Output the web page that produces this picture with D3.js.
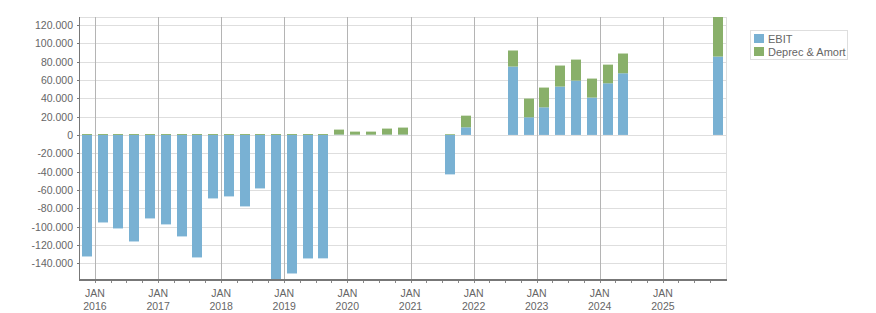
<!DOCTYPE html>
<html lang="en">
	<head>
		<meta charset="utf-8">
		<title>EBIT</title>
		<script src="https://cdn.jsdelivr.net/npm/d3@7"></script>
		<style>
			body { margin: 0; background: #fff; }
			text { font-family: "Liberation Sans", Arial, sans-serif; fill: #666; }
		</style>
	</head>
	<body>
	<script>

		// quarter start (year, quarter 1-4) for every bar slot
		var quarters = [
			"2015Q4",
			"2016Q1","2016Q2","2016Q3","2016Q4",
			"2017Q1","2017Q2","2017Q3","2017Q4",
			"2018Q1","2018Q2","2018Q3","2018Q4",
			"2019Q1","2019Q2","2019Q3","2019Q4",
			"2020Q1","2020Q2","2020Q3","2020Q4",
			"2021Q1","2021Q2","2021Q3","2021Q4",
			"2022Q1","2022Q2","2022Q3","2022Q4",
			"2023Q1","2023Q2","2023Q3","2023Q4",
			"2024Q1","2024Q2","2024Q3","2024Q4",
			"2025Q1","2025Q2","2025Q3","2025Q4"
		];

		var ebit = [
			-132450,
			-95400, -101900, -116100, -91000,
			-97500, -110600, -133500, -69200,
			-67000, -77900, -58300, -157000,
			-151000, -134600, -134500, 400,
			300, 300, 400, 400,
			null, null, -43000, 8300,
			null, null, 74500, 19200,
			30100, 52700, 59200, 40700,
			56300, 67200, null, null,
			null, null, null, 85400
		];

		var deprec = [
			1000,
			1000, 1000, 1000, 1000,
			1000, 1000, 1000, 1000,
			1000, 1000, 1000, 1000,
			1000, 1000, 1000, 5400,
			3300, 3300, 6500, 7600,
			null, null, 800, 12700,
			null, null, 17500, 20400,
			21500, 22900, 22900, 20700,
			20300, 21500, null, null,
			null, null, null, 43100
		];

		var seriesNames = ["EBIT", "Deprec & Amort"];
		var colors = ["#79b1d3", "#89b06a"];
		var yTicks = [-140000, -120000, -100000, -80000, -60000, -40000, -20000, 0,
			20000, 40000, 60000, 80000, 100000, 120000];
		var yearTicks = [2016, 2017, 2018, 2019, 2020, 2021, 2022, 2023, 2024, 2025];

		var w = 876, h = 313;
		var pLeft = 79, pRight = 726, pTop = 17, pBottom = 279;

		function qStart(q) {
			var yr = +q.slice(0, 4), n = +q.slice(5);
			return new Date(yr, (n - 1) * 3, 1);
		}

		var rows = [];
		quarters.forEach(function(q, i) {
			if (ebit[i] == null) return;
			rows.push({ q: q, "EBIT": ebit[i], "Deprec & Amort": deprec[i] });
		});

		var stack = d3.stack().keys(seriesNames).offset(d3.stackOffsetDiverging);
		var layers = stack(rows);

		var yMin = d3.min(layers, function(l){ return d3.min(l, function(d){ return d[0]; }); });
		var yMax = d3.max(layers, function(l){ return d3.max(l, function(d){ return d[1]; }); });

		var x = d3.scaleTime()
			.domain([new Date(2015, 9, 1), new Date(2026, 0, 1)])
			.range([pLeft, pRight]);
		var y = d3.scaleLinear().domain([yMin, yMax]).range([pBottom, pTop]);

		var loc = d3.formatLocale({ decimal: ",", thousands: ".", grouping: [3], currency: ["", ""], minus: "-" });
		var fmt = loc.format(",d");

		var svg = d3.select("body").append("svg")
			.attr("width", w).attr("height", h);

		// horizontal grid
		svg.append("g").selectAll("line")
			.data(yTicks)
			.enter().append("line")
			.attr("x1", pLeft).attr("x2", pRight)
			.attr("y1", function(d){ return Math.round(y(d)) + 0.5; })
			.attr("y2", function(d){ return Math.round(y(d)) + 0.5; })
			.attr("stroke", "#dedede");

		// top and right border
		svg.append("line").attr("x1", pLeft).attr("x2", pRight)
			.attr("y1", pTop + 0.5).attr("y2", pTop + 0.5).attr("stroke", "#dedede");
		svg.append("line").attr("x1", pRight + 0.5).attr("x2", pRight + 0.5)
			.attr("y1", pTop).attr("y2", pBottom).attr("stroke", "#dedede");

		// vertical grid at january
		svg.append("g").selectAll("line")
			.data(yearTicks)
			.enter().append("line")
			.attr("x1", function(d){ return Math.round(x(new Date(d, 0, 1))) + 0.5; })
			.attr("x2", function(d){ return Math.round(x(new Date(d, 0, 1))) + 0.5; })
			.attr("y1", pTop).attr("y2", pBottom + 4)
			.attr("stroke", "#b4b4b4");

		// bars
		var barW = 10;
		svg.append("g").selectAll("g")
			.data(layers)
			.enter().append("g")
			.attr("fill", function(d, i){ return colors[i]; })
			.selectAll("rect")
			.data(function(d){ return d; })
			.enter().append("rect")
			.attr("x", function(d){
				var s = qStart(d.data.q), e = d3.timeMonth.offset(s, 3);
				return Math.round((x(s) + x(e)) / 2 - barW / 2);
			})
			.attr("width", barW)
			.attr("y", function(d){ return y(Math.max(d[0], d[1])); })
			.attr("height", function(d){ return Math.abs(y(d[0]) - y(d[1])); });

		// y axis
		svg.append("line").attr("x1", pLeft + 0.5).attr("x2", pLeft + 0.5)
			.attr("y1", pTop).attr("y2", pBottom).attr("stroke", "#777");
		svg.append("g").selectAll("line")
			.data(yTicks)
			.enter().append("line")
			.attr("x1", pLeft - 2).attr("x2", pLeft)
			.attr("y1", function(d){ return Math.round(y(d)) + 0.5; })
			.attr("y2", function(d){ return Math.round(y(d)) + 0.5; })
			.attr("stroke", "#777");
		svg.append("g").selectAll("text")
			.data(yTicks)
			.enter().append("text")
			.attr("x", 73)
			.attr("y", function(d){ return y(d) + 4; })
			.attr("text-anchor", "end")
			.attr("font-size", "10.5px")
			.text(function(d){ return fmt(d); });

		// x axis
		svg.append("line").attr("x1", pLeft).attr("x2", pRight + 1)
			.attr("y1", pBottom + 1).attr("y2", pBottom + 1)
			.attr("stroke", "#777").attr("stroke-width", 2);
		var qTicks = d3.timeMonth.every(3).range(new Date(2016, 0, 1), new Date(2026, 0, 1));
		svg.append("g").selectAll("line")
			.data(qTicks)
			.enter().append("line")
			.attr("x1", function(d){ return Math.round(x(d)) + 0.5; })
			.attr("x2", function(d){ return Math.round(x(d)) + 0.5; })
			.attr("y1", pBottom + 2).attr("y2", pBottom + 4)
			.attr("stroke", "#888");

		var xl = svg.append("g").selectAll("text")
			.data(yearTicks)
			.enter().append("text")
			.attr("text-anchor", "middle")
			.attr("font-size", "10.5px");
		xl.append("tspan")
			.attr("x", function(d){ return x(new Date(d, 0, 1)); })
			.attr("y", 297)
			.text("JAN");
		xl.append("tspan")
			.attr("x", function(d){ return x(new Date(d, 0, 1)); })
			.attr("y", 310)
			.text(function(d){ return d; });

		// legend
		var lg = svg.append("g");
		lg.append("rect")
			.attr("x", 750.5).attr("y", 30.5)
			.attr("width", 97).attr("height", 29)
			.attr("fill", "#fff").attr("stroke", "#dedede");
		seriesNames.forEach(function(s, i) {
			lg.append("rect")
				.attr("x", 754).attr("y", 34 + i * 13)
				.attr("width", 10).attr("height", 9)
				.attr("fill", colors[i]);
			lg.append("text")
				.attr("x", 768).attr("y", 42.5 + i * 13)
				.attr("font-size", "11px")
				.text(s);
		});

	</script>
	</body>
</html>
